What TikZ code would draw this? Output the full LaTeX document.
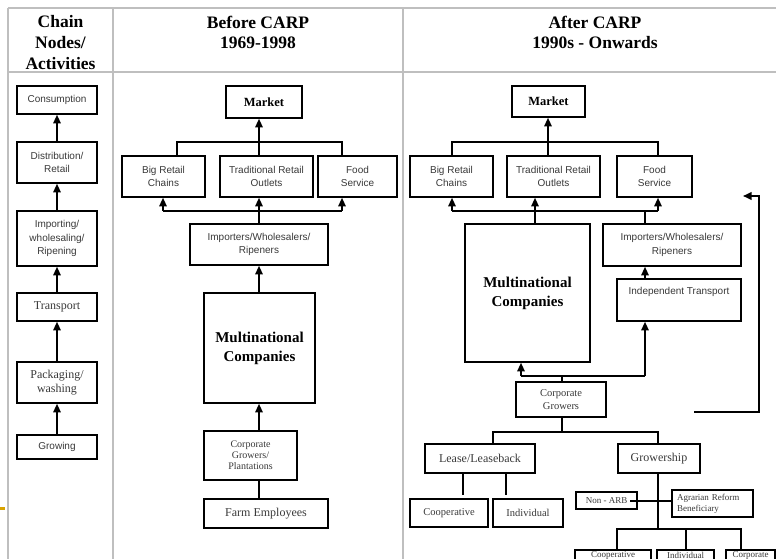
\documentclass[tikz,border=0pt]{standalone}
\usepackage{fontspec}
\setmainfont{Liberation Serif}
\setsansfont{Liberation Sans}
\usetikzlibrary{arrows.meta}
\definecolor{gridgray}{HTML}{BFBFBF}
\definecolor{txtgray}{HTML}{383838}
\definecolor{slideorange}{HTML}{D9A300}

\begin{document}
\begin{tikzpicture}[x=1pt,y=-1pt,
  box/.style={draw=black, line width=1.7pt, inner sep=0pt, align=center, text=txtgray},
  wh/.style 2 args={minimum width=#1pt, minimum height=#2pt},
  fsans/.style={font=\sffamily\fontsize{10}{13.8}\selectfont},
  fserif/.style={font=\fontsize{12}{14}\selectfont},
  fsmall/.style={font=\fontsize{10}{11}\selectfont},
  fmid/.style={font=\fontsize{10.5}{12.5}\selectfont},
  ftiny/.style={font=\fontsize{9}{11}\selectfont},
  fmkt/.style={font=\bfseries\fontsize{12.5}{15}\selectfont, text=black},
  fmnc/.style={font=\bfseries\fontsize{15}{19}\selectfont, text=black},
  head/.style={font=\bfseries\fontsize{17.5}{20.8}\selectfont, align=center, inner sep=0pt},
  link/.style={draw=black, line width=1.3pt},
  arr/.style={link, -{Triangle[width=7.5pt,length=8.5pt]}},
  feed/.style={draw=black, line width=2pt, -{Triangle[width=7.5pt,length=8.5pt]}},
  tableline/.style={draw=gridgray, line width=1.8pt}
]
\useasboundingbox (0,0) rectangle (776,559);
\clip (0,0) rectangle (776,559);

% table rules
\draw[tableline] (8,8) -- (790,8);
\draw[tableline] (8,72) -- (790,72);
\draw[tableline] (8,8) -- (8,570);
\draw[tableline] (113,8) -- (113,570);
\draw[tableline] (403,8) -- (403,570);
\fill[slideorange] (0,507) rectangle (5,510);

% column headings
\node[head] (h1) at (60.5,42.5) {Chain\\Nodes/\\Activities};
\node[head] (h2) at (258,32.5) {Before CARP\\1969-1998};
\node[head] (h3) at (595,32.5) {After CARP\\1990s - Onwards};

% ---- chain nodes / activities ----
\node[box, wh={80}{28}, fsans]  (cons)  at (57,100)   {Consumption};
\node[box, wh={80}{41}, fsans]  (dist)  at (57,162.5) {Distribution/\\Retail};
\node[box, wh={80}{55}, fsans]  (impw)  at (57,238.5) {Importing/\\wholesaling/\\Ripening};
\node[box, wh={80}{28}, fserif] (trans) at (57,307)   {Transport};
\node[box, wh={80}{41}, fserif] (pack)  at (57,382.5) {Packaging/\\washing};
\node[box, wh={80}{24}, fsans]  (grow)  at (57,447)   {Growing};

\draw[arr] (dist) -- (cons);
\draw[arr] (impw) -- (dist);
\draw[arr] (trans) -- (impw);
\draw[arr] (pack) -- (trans);
\draw[arr] (grow) -- (pack);

% ---- before CARP ----
\node[box, wh={76}{32}, fmkt]   (mkt1) at (264,102)    {Market};
\node[box, wh={83}{41}, fsans]  (brc1) at (163.5,176.5) {Big Retail\\Chains};
\node[box, wh={93}{41}, fsans]  (tro1) at (266.5,176.5) {Traditional Retail\\Outlets};
\node[box, wh={79}{41}, fsans]  (fs1)  at (357.5,176.5) {Food\\Service};
\node[box, wh={138}{41}, fsans] (iws1) at (259,244.5)   {Importers/Wholesalers/\\Ripeners};
\node[box, wh={111}{110}, fmnc] (mnc1) at (259.5,348)   {Multinational\\Companies};
\node[box, wh={93}{49}, fsmall] (cg1)  at (250.5,455.5) {Corporate\\Growers/\\Plantations};
\node[box, wh={124}{29}, fserif](fe1)  at (266,513.5)   {Farm Employees};

\coordinate (mTop) at (259,142);
\coordinate (mTL)  at (177,142);
\coordinate (mTR)  at (342,142);
\draw[link] (mTL |- brc1.north) -- (mTL) -- (mTR) -- (mTR |- fs1.north);
\draw[link] (mTop |- tro1.north) -- (mTop);
\draw[arr]  (mTop) -- (mTop |- mkt1.south);

\coordinate (mBL) at (163,211);
\coordinate (mBM) at (259,211);
\coordinate (mBR) at (342,211);
\draw[link] (mBL) -- (mBR);
\draw[arr]  (mBL) -- (mBL |- brc1.south);
\draw[arr]  (mBM) -- (mBM |- tro1.south);
\draw[arr]  (mBR) -- (mBR |- fs1.south);
\draw[link] (iws1.north -| mBM) -- (mBM);
\draw[arr]  (mnc1.north -| mBM) -- (iws1.south -| mBM);
\draw[arr]  (cg1.north -| mBM) -- (mnc1.south -| mBM);
\draw[link] (fe1.north -| mBM) -- (cg1.south -| mBM);

% ---- after CARP ----
\node[box, wh={73}{31}, fmkt]   (mkt2) at (548.5,101.5) {Market};
\node[box, wh={83}{41}, fsans]  (brc2) at (451.5,176.5) {Big Retail\\Chains};
\node[box, wh={93}{41}, fsans]  (tro2) at (553.5,176.5) {Traditional Retail\\Outlets};
\node[box, wh={75}{41}, fsans]  (fs2)  at (654.5,176.5) {Food\\Service};
\node[box, wh={125}{138}, fmnc] (mnc2) at (527.5,293)   {Multinational\\Companies};
\node[box, wh={138}{42}, fsans] (iws2) at (672,245)     {Importers/Wholesalers/\\Ripeners};
\node[box, wh={124}{42}, fsans] (it2)  at (679,300)     {Independent Transport\\\strut};
\node[box, wh={90}{35}, fmid]   (cg2)  at (561,399.5)   {Corporate\\Growers};
\node[box, wh={110}{29}, fserif](lease) at (480,458.5)  {Lease/Leaseback};
\node[box, wh={82}{29}, fserif] (grow2) at (659,458.5)  {Growership};
\node[box, wh={78}{28}, fmid]   (coop1) at (449,513)    {Cooperative};
\node[box, wh={70}{28}, fmid]   (ind1)  at (528,513)    {Individual};
\node[box, wh={61}{17}, ftiny]  (nonarb) at (606.5,500.5) {Non - ARB};
\node[box, ftiny, text width=71pt, inner xsep=5pt, minimum height=27pt, align=left]
      (arb) at (712.5,503.5) {Agrarian Reform\\Beneficiary};
\node[box, wh={76}{11}, ftiny]  (coop2) at (613,555.5)  {Cooperative};
\node[box, wh={57}{11}, ftiny]  (ind2)  at (685.5,555.5) {Individual};
\node[box, wh={49}{11}, ftiny]  (corp2) at (750.5,555.5) {Corporate};

\coordinate (rTop) at (548,142);
\coordinate (rTL)  at (452,142);
\coordinate (rTR)  at (658,142);
\draw[link] (rTL |- brc2.north) -- (rTL) -- (rTR) -- (rTR |- fs2.north);
\draw[link] (rTop |- tro2.north) -- (rTop);
\draw[arr]  (rTop) -- (rTop |- mkt2.south);

\coordinate (rBL) at (452,211);
\coordinate (rBM) at (535,211);
\coordinate (rBI) at (645,211);
\coordinate (rBR) at (658,211);
\draw[link] (rBL) -- (rBR);
\draw[arr]  (rBL) -- (rBL |- brc2.south);
\draw[arr]  (rBM) -- (rBM |- tro2.south);
\draw[arr]  (rBR) -- (rBR |- fs2.south);
\draw[link] (mnc2.north -| rBM) -- (rBM);
\draw[link] (iws2.north -| rBI) -- (rBI);
\draw[arr]  (it2.north -| rBI) -- (iws2.south -| rBI);

\coordinate (cgJ) at (562,376);
\coordinate (cgL) at (521,376);
\coordinate (cgR) at (645,376);
\draw[link] (cg2.north -| cgJ) -- (cgJ);
\draw[link] (cgL) -- (cgR);
\draw[arr]  (cgL) -- (cgL |- mnc2.south);
\draw[arr]  (cgR) -- (cgR |- it2.south);

% feedback loop from the growers back up to the retail level
\coordinate (fbS) at (694,412);
\coordinate (fbA) at (759,412);
\coordinate (fbB) at (759,196);
\coordinate (fbE) at (743,196);
\draw[feed] (fbS) -- (fbA) -- (fbB) -- (fbE);

\coordinate (cgB) at (562,432);
\coordinate (lsJ) at (493,432);
\coordinate (gwJ) at (658,432);
\draw[link] (cg2.south -| cgB) -- (cgB);
\draw[link] (lsJ |- lease.north) -- (lsJ) -- (gwJ) -- (gwJ |- grow2.north);

\coordinate (lc1) at (463,495);
\coordinate (lc2) at (506,495);
\draw[link] (lease.south -| lc1) -- (lc1);
\draw[link] (lease.south -| lc2) -- (lc2);

\coordinate (gwB) at (658,529);
\coordinate (gbL) at (617,529);
\coordinate (gbM) at (686,529);
\coordinate (gbR) at (741,529);
\draw[link] (grow2.south -| gwB) -- (gwB);
\draw[link] (gbL |- coop2.north) -- (gbL) -- (gbR) -- (gbR |- corp2.north);
\draw[link] (gbM) -- (gbM |- ind2.north);

\coordinate (naJ) at (630,501);
\draw[link] (naJ) -- (naJ -| arb.west);
\end{tikzpicture}
\end{document}
